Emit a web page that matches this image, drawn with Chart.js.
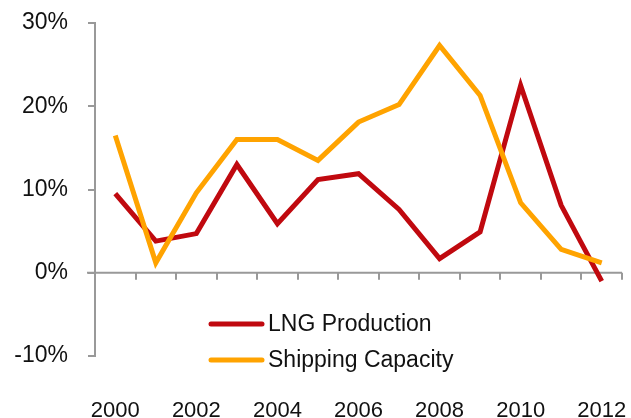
<!DOCTYPE html>
<html>
<head>
<meta charset="utf-8">
<script src="https://cdn.jsdelivr.net/npm/chart.js@4.4.1/dist/chart.umd.min.js"></script>
<style>
  html, body { margin: 0; padding: 0; background: #fff; }
  #wrap { width: 631px; height: 418px; position: relative; }
</style>
</head>
<body>
<div id="wrap"><canvas id="lngChart"></canvas></div>
<script>
// values (percent growth per year)
const years = ["2000", "2001", "2002", "2003", "2004", "2005", "2006", "2007", "2008", "2009", "2010", "2011", "2012"];
const lngProduction = [9.5, 3.8, 4.7, 13.0, 5.9, 11.2, 11.9, 7.6, 1.7, 4.9, 22.5, 8.1, -1.0];
const shippingCapacity = [16.5, 1.2, 9.6, 16.0, 16.0, 13.5, 18.1, 20.2, 27.3, 21.3, 8.4, 2.8, 1.2];
const yTicks = [-10, 0, 10, 20, 30];

const seriesNames = ["LNG Production", "Shipping Capacity"];
const seriesColors = ["#C0090F", "#FFA300"];
const axisGray = "#999999";
const fontFamily = "'Liberation Sans', Arial, sans-serif";

// horizontal axis sits at 0%, with tick marks between the years
const zeroAxis = {
  id: "zeroAxis",
  beforeDatasetsDraw(chart) {
    const { ctx, scales: { x, y } } = chart;
    const y0 = y.getPixelForValue(0);
    ctx.save();
    ctx.strokeStyle = axisGray;
    ctx.lineWidth = 2;
    ctx.beginPath();
    ctx.moveTo(x.left - 8, y0);
    ctx.lineTo(x.right, y0);
    for (let i = 0; i <= years.length; i++) {
      const px = Math.round(x.getPixelForValue(i - 0.5));
      ctx.moveTo(px, y0);
      ctx.lineTo(px, y0 + 7);
    }
    ctx.stroke();
    ctx.restore();
  },
};

// legend inside the plot, under the zero line
const insideLegend = {
  id: "insideLegend",
  afterDraw(chart) {
    const { ctx } = chart;
    ctx.save();
    ctx.font = "23px " + fontFamily;
    ctx.textBaseline = "middle";
    seriesNames.forEach((name, i) => {
      const yy = 324 + i * 36;
      ctx.strokeStyle = seriesColors[i];
      ctx.lineWidth = 5;
      ctx.lineCap = "round";
      ctx.beginPath();
      ctx.moveTo(211, yy);
      ctx.lineTo(262, yy);
      ctx.stroke();
      ctx.fillStyle = "#111";
      ctx.fillText(name, 268, yy + 1);
    });
    ctx.restore();
  },
};

const ctx = document.getElementById("lngChart").getContext("2d");
new Chart(ctx, {
  type: "line",
  data: {
    labels: years,
    datasets: [
      {
        label: seriesNames[0],
        data: lngProduction,
        borderColor: seriesColors[0],
        backgroundColor: seriesColors[0],
        borderWidth: 5,
        pointRadius: 0,
        tension: 0,
        order: 1,
      },
      {
        label: seriesNames[1],
        data: shippingCapacity,
        borderColor: seriesColors[1],
        backgroundColor: seriesColors[1],
        borderWidth: 5,
        pointRadius: 0,
        tension: 0,
        order: 0,
      },
    ],
  },
  options: {
    responsive: true,
    maintainAspectRatio: false,
    animation: false,
    layout: { padding: { top: 23, right: 9, left: 0, bottom: 0 } },
    plugins: {
      legend: { display: false },
      tooltip: { enabled: false },
    },
    scales: {
      x: {
        offset: true,
        grid: { display: false, drawTicks: false },
        border: { display: false },
        ticks: {
          autoSkip: false,
          maxRotation: 0,
          padding: 42,
          color: "#111",
          font: { family: fontFamily, size: 22 },
          callback: (v, i) => (i % 2 === 0 ? years[i] : ""),
        },
        afterFit: (scale) => {
          scale.height = 62;
          scale.paddingLeft = 0;
          scale.paddingRight = 0;
        },
      },
      y: {
        min: -10,
        max: 30,
        afterBuildTicks: (scale) => { scale.ticks = yTicks.map((v) => ({ value: v })); },
        grid: { drawOnChartArea: false, drawTicks: true, tickLength: 7, color: axisGray, lineWidth: 2 },
        border: { display: true, color: axisGray, width: 2 },
        ticks: {
          padding: 20,
          color: "#111",
          font: { family: fontFamily, size: 23 },
          callback: (v) => v + "%",
        },
        afterFit: (scale) => {
          scale.width = 95;
          scale.paddingTop = 0;
          scale.paddingBottom = 0;
        },
      },
    },
  },
  plugins: [zeroAxis, insideLegend],
});
</script>
</body>
</html>
